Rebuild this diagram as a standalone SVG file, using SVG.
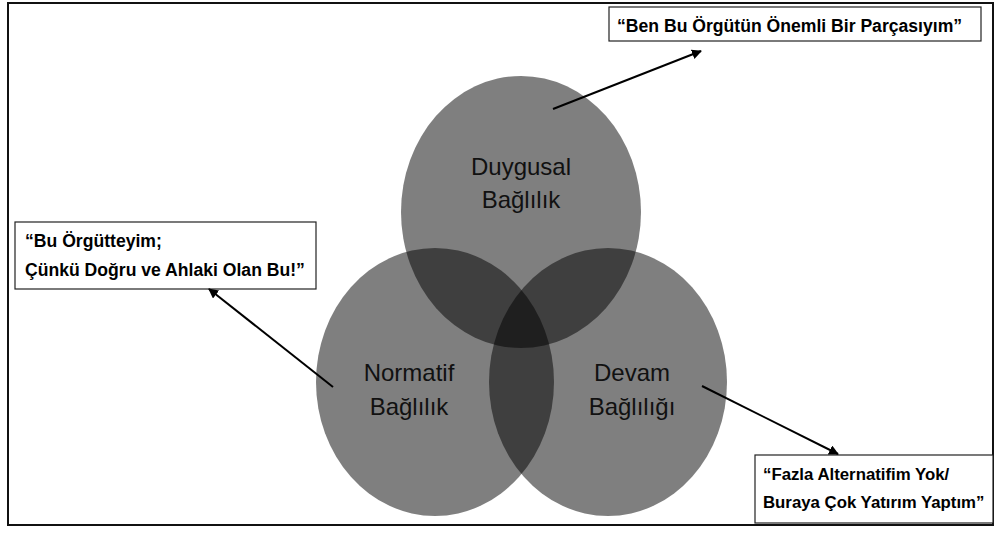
<svg xmlns="http://www.w3.org/2000/svg" width="999" height="536" viewBox="0 0 999 536">
  <defs>
    <marker id="ah" viewBox="0 0 10 10" refX="9" refY="5" markerWidth="5" markerHeight="5" orient="auto" markerUnits="strokeWidth">
      <path d="M0,0 L10,5 L0,10 z" fill="#000"/>
    </marker>
    <style>
      .circ { fill: #000; fill-opacity: 0.5; }
      .lbl { font-family: "Liberation Sans", Arial, sans-serif; font-size: 24px; fill: #111; text-anchor: middle; }
      .box { fill: #fff; stroke: #222; stroke-width: 1.2; }
      .quote { font-family: "Liberation Sans", Arial, sans-serif; font-size: 17.6px; font-weight: bold; fill: #000; }
      .quote-sm { font-size: 16.8px; }
      .conn { stroke: #000; stroke-width: 2; fill: none; marker-end: url(#ah); }
    </style>
  </defs>
  <rect x="0" y="0" width="999" height="536" fill="#fff"/>
  <rect x="8" y="3" width="985" height="522" fill="none" stroke="#111" stroke-width="2"/>

  <g id="node-duygusal">
    <ellipse class="circ" cx="521" cy="212" rx="120" ry="136"/>
    <text class="lbl" x="521" y="175">Duygusal</text>
    <text class="lbl" x="521" y="208">Bağlılık</text>
  </g>
  <g id="node-normatif">
    <ellipse class="circ" cx="435" cy="382" rx="119" ry="134"/>
    <text class="lbl" x="409" y="381">Normatif</text>
    <text class="lbl" x="409" y="415">Bağlılık</text>
  </g>
  <g id="node-devam">
    <ellipse class="circ" cx="608" cy="382" rx="119" ry="134"/>
    <text class="lbl" x="632" y="381">Devam</text>
    <text class="lbl" x="632" y="415">Bağlılığı</text>
  </g>

  <g id="quote-duygusal">
    <rect class="box" x="609" y="7" width="372" height="34"/>
    <text class="quote" x="617" y="32">“Ben Bu Örgütün Önemli Bir Parçasıyım”</text>
  </g>
  <g id="quote-normatif">
    <rect class="box" x="15" y="222" width="301" height="67"/>
    <text class="quote" x="25" y="247">“Bu Örgütteyim;</text>
    <text class="quote" x="25" y="276">Çünkü Doğru ve Ahlaki Olan Bu!”</text>
  </g>
  <g id="quote-devam">
    <rect class="box" x="755" y="455" width="238" height="68"/>
    <text class="quote quote-sm" x="763" y="480">“Fazla Alternatifim Yok/</text>
    <text class="quote quote-sm" x="763" y="508">Buraya Çok Yatırım Yaptım”</text>
  </g>

  <g id="connectors">
    <line class="conn" x1="553" y1="109" x2="701" y2="51"/>
    <line class="conn" x1="333" y1="387" x2="209" y2="289"/>
    <line class="conn" x1="702" y1="386" x2="838" y2="454"/>
  </g>
</svg>
